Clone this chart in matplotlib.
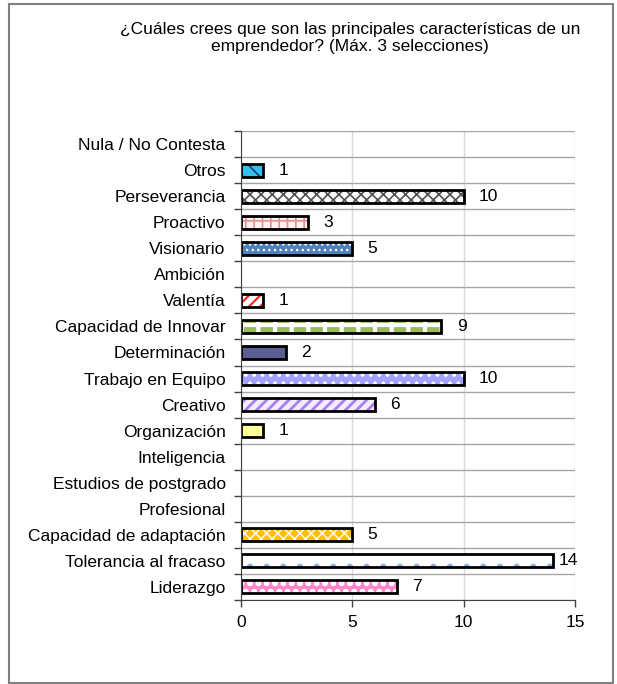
import numpy as np
import matplotlib
matplotlib.use("Agg")
import matplotlib.pyplot as plt
from matplotlib.patches import Rectangle

plt.rcParams['font.family'] = ['Liberation Sans', 'DejaVu Sans']

# categories from bottom to top
categorias = ["Liderazgo", "Tolerancia al fracaso", "Capacidad de adaptación",
              "Profesional", "Estudios de postgrado", "Inteligencia",
              "Organización", "Creativo", "Trabajo en Equipo", "Determinación",
              "Capacidad de Innovar", "Valentía", "Ambición", "Visionario",
              "Proactivo", "Perseverancia", "Otros", "Nula / No Contesta"]
valores = [7, 14, 5, 0, 0, 0, 1, 6, 10, 2, 9, 1, 0, 5, 3, 10, 1, 0]

# fill colour, hatch, hatch colour for each bar
rellenos = ["#ff88cc", "white", "#ffc000", "white", "white", "white",
            "#ffff99", "#f3ecfd", "#a3a3ff", "#5b5f94", "#9bbb59", "white",
            "white", "#4f81bd", "#fdf0f0", "white", "#33c0f0", "white"]
tramas = ["oo", ".", "xxx", "", "", "", "", "///", "..", "", "+", "///", "",
          "...", "++", "xxx", "\\\\", ""]
colores_trama = ["white", "#8fb0dd", "white", "white", "white", "white",
                 "#ffff99", "#a77ff0", "white", "#5b5f94", "white", "#ff2020",
                 "white", "white", "#e59090", "#505050", "#1f3f6f", "white"]
grosor_trama = [1.5, 2.0, 1.0, 1, 1, 1, 1, 2.0, 1.5, 1, 3.0, 1.5, 1,
                1.0, 1.2, 1.2, 1.2, 1]

titulo = "¿Cuáles crees que son las principales características de un\nemprendedor? (Máx. 3 selecciones)"

fig = plt.figure(figsize=(6.17, 6.84), dpi=100)
ax = fig.add_axes([241/617, 1-600/684, 334/617, 469/684])

y = np.arange(len(categorias))
for i in range(len(categorias)):
    if valores[i] == 0:
        continue
    with plt.rc_context({'hatch.linewidth': grosor_trama[i]}):
        barras = ax.barh(y[i], valores[i], height=0.5, color=rellenos[i],
                         hatch=tramas[i], linewidth=0, zorder=3)
        for b in barras:
            b.set_edgecolor(colores_trama[i])
            b.set_linewidth(0)
    ax.barh(y[i], valores[i], height=0.5, fill=False, edgecolor="black",
            linewidth=2, zorder=4)
    dx = 4 if valores[i] == 14 else 11
    ax.annotate(str(valores[i]), (valores[i], y[i]), xytext=(dx, 0),
                textcoords="offset points", ha="left", va="center",
                fontsize=12.5)

ax.set_xlim(0, 15)
ax.set_ylim(-0.5, len(categorias) - 0.5)
ax.set_xticks([0, 5, 10, 15])
ax.tick_params(axis='x', labelsize=12.5, length=5, width=1, color="#404040", pad=6)

ax.set_yticks(np.arange(len(categorias) + 1) - 0.5)
ax.set_yticklabels([])
ax.set_yticks(y, minor=True)
ax.set_yticklabels(categorias, minor=True, fontsize=12.5)
ax.tick_params(axis='y', which='major', length=5, width=1, color="#404040")
ax.tick_params(axis='y', which='minor', length=0, pad=11)

ax.grid(axis='x', color="#d9d9d9", linewidth=1, zorder=0)
ax.grid(axis='y', which='major', color="#a6a6a6", linewidth=1, zorder=0)
ax.set_axisbelow(True)

ax.spines['top'].set_visible(False)
ax.spines['right'].set_visible(False)
ax.spines['left'].set_color("#404040")
ax.spines['bottom'].set_color("#404040")
ax.spines['left'].set_zorder(5)

fig.text(350/617, 1-38/684, titulo, ha="center", va="center", fontsize=12.5,
         linespacing=1.1)

fig.patches.append(Rectangle((9/617, 0.002), 604/617, 1-4/684-0.002,
                             transform=fig.transFigure, fill=False,
                             edgecolor="#808080", linewidth=1.5))

fig.savefig("out.png", dpi=100)
